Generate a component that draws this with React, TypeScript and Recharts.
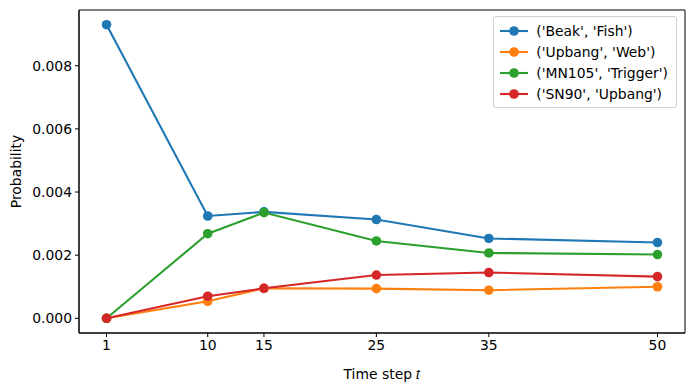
import React from "react";
import { LineChart, Line, XAxis, YAxis, ReferenceArea } from "recharts";

const timeSteps = [1, 10, 15, 25, 35, 50];
const beakFish = [0.0093, 0.00324, 0.00337, 0.00313, 0.00253, 0.0024];
const upbangWeb = [0.0, 0.00054, 0.00095, 0.00094, 0.00089, 0.001];
const mn105Trigger = [0.0, 0.00268, 0.00335, 0.00245, 0.00207, 0.00202];
const sn90Upbang = [0.0, 0.0007, 0.00095, 0.00137, 0.00145, 0.00132];

const xTicks = [1, 10, 15, 25, 35, 50];
const yTicks = [0, 0.002, 0.004, 0.006, 0.008];

const seriesList = [
  { key: "beak", name: "('Beak', 'Fish')", values: beakFish, color: "#1f77b4" },
  { key: "web", name: "('Upbang', 'Web')", values: upbangWeb, color: "#ff7f0e" },
  { key: "mn", name: "('MN105', 'Trigger')", values: mn105Trigger, color: "#2ca02c" },
  { key: "sn", name: "('SN90', 'Upbang')", values: sn90Upbang, color: "#d62728" },
];

const data = timeSteps.map((t, i) => {
  const row: Record<string, number> = { t };
  seriesList.forEach((s) => {
    row[s.key] = s.values[i];
  });
  return row;
});

const X_DOMAIN: [number, number] = [-1.45, 52.45];
const Y_DOMAIN: [number, number] = [-0.000465, 0.009765];
const FONT = "DejaVu Sans, sans-serif";
const FS = 13.9;

function LegendBox() {
  return (
    <div
      style={{
        position: "absolute",
        top: 16,
        right: 13,
        border: "1px solid #d0d0d0",
        borderRadius: 3,
        background: "rgba(255,255,255,0.8)",
        padding: "3px 8px 3px 6px",
        fontFamily: FONT,
        fontSize: FS,
        color: "#000",
      }}
    >
      {seriesList.map((s) => (
        <div
          key={s.key}
          style={{ display: "flex", alignItems: "center", height: 21 }}
        >
          <svg width={28} height={12} style={{ marginRight: 8 }}>
            <line x1={0} y1={6} x2={28} y2={6} stroke={s.color} strokeWidth={2.1} />
            <circle cx={14} cy={6} r={4.8} fill={s.color} />
          </svg>
          <span>{s.name}</span>
        </div>
      ))}
    </div>
  );
}

export default function App() {
  return (
    <div
      style={{
        position: "absolute",
        left: 0,
        top: 0,
        width: 690,
        height: 390,
        background: "#fff",
      }}
    >
      <LineChart
        width={690}
        height={390}
        data={data}
        margin={{ top: 10, right: 5, bottom: 0, left: 0 }}
      >
        <XAxis
          dataKey="t"
          type="number"
          domain={X_DOMAIN}
          allowDataOverflow
          ticks={xTicks}
          interval={0}
          height={57}
          tickSize={4}
          tickMargin={3}
          stroke="#000"
          tick={{ fill: "#000", fontSize: FS, fontFamily: FONT }}
          label={{
            value: "Time step 𝑡",
            position: "insideBottom",
            offset: 11,
            fill: "#000",
            fontSize: FS,
            fontFamily: FONT,
          }}
        />
        <YAxis
          type="number"
          domain={Y_DOMAIN}
          allowDataOverflow
          ticks={yTicks}
          interval={0}
          width={79}
          tickSize={4}
          tickMargin={3}
          stroke="#000"
          tickFormatter={(v: number) => v.toFixed(3)}
          tick={{ fill: "#000", fontSize: FS, fontFamily: FONT }}
          label={{
            value: "Probability",
            angle: -90,
            position: "insideLeft",
            offset: 16,
            style: { textAnchor: "middle" },
            fill: "#000",
            fontSize: FS,
            fontFamily: FONT,
          }}
        />
        <ReferenceArea
          x1={X_DOMAIN[0]}
          x2={X_DOMAIN[1]}
          y1={Y_DOMAIN[0]}
          y2={Y_DOMAIN[1]}
          fill="none"
          stroke="#000"
          strokeWidth={1}
          ifOverflow="visible"
        />
        {seriesList.map((s) => (
          <Line
            key={s.key}
            dataKey={s.key}
            name={s.name}
            type="linear"
            stroke={s.color}
            strokeWidth={2.1}
            dot={{ r: 4.8, fill: s.color, stroke: s.color, strokeWidth: 0 }}
            activeDot={false}
            isAnimationActive={false}
          />
        ))}
      </LineChart>
      <LegendBox />
    </div>
  );
}
